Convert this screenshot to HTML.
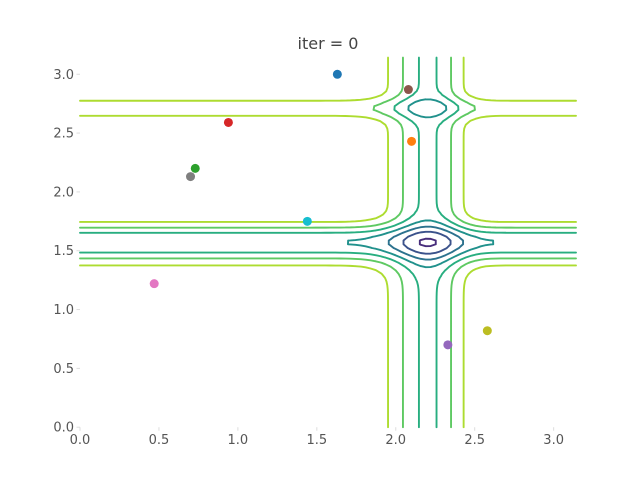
<!DOCTYPE html>
<html><head><meta charset="utf-8"><style>
body{margin:0;background:#fff}
svg{display:block;font-family:"DejaVu Sans","Liberation Sans",sans-serif}
</style></head><body>
<svg id="chart" width="640" height="480">
<text x="328" y="49" text-anchor="middle" font-size="16" fill="#444">iter = 0</text>
<g id="contours"></g>
<g id="axes"></g>
<g id="points"></g>
</svg>
<script>
const xTicks=[0,0.5,1.0,1.5,2.0,2.5,3.0];
const yTicks=[0,0.5,1.0,1.5,2.0,2.5,3.0];
const levels=[-1.75,-1.5,-1.25,-1.0,-0.75,-0.5,-0.25];
const levelColors=["#472d7b","#3b528b","#2c728e","#21918c","#28ae80","#5ec962","#addc30"];
const ptX=[1.63,2.10,0.73,0.94,2.33,2.08,0.47,0.70,2.58,1.44];
const ptY=[3.00,2.43,2.20,2.59,0.70,2.87,1.22,2.13,0.82,1.75];
const ptColors=["#1f77b4","#ff7f0e","#2ca02c","#d62728","#9467bd","#8c564b","#e377c2","#7f7f7f","#bcbd22","#17becf"];
const L=80,R=576,T=57.6,B=427.2,PI=Math.PI;
const sx=v=>L+v/PI*(R-L), sy=v=>B-v/PI*(B-T);
const NS="http://www.w3.org/2000/svg";
function mk(t,a,p){const e=document.createElementNS(NS,t);for(const k in a)e.setAttribute(k,a[k]);p.appendChild(e);return e;}
function f(x,y){return -(Math.sin(x)*Math.pow(Math.sin(x*x/PI),20)+Math.sin(y)*Math.pow(Math.sin(2*y*y/PI),20));}
const N=99,G=[];
for(let j=0;j<=N;j++){G[j]=[];for(let i=0;i<=N;i++)G[j][i]=f(i/N*PI,j/N*PI);}
const cg=document.getElementById('contours');
levels.forEach((lv,li)=>{
  let d="";
  for(let j=0;j<N;j++)for(let i=0;i<N;i++){
    const v=[G[j][i],G[j][i+1],G[j+1][i+1],G[j+1][i]];
    const c=[[i,j],[i+1,j],[i+1,j+1],[i,j+1]];
    const pts=[];
    for(let k=0;k<4;k++){const a=v[k],b=v[(k+1)%4];
      if((a<lv)!==(b<lv)){const t=(lv-a)/(b-a);const p=c[k],q=c[(k+1)%4];
        pts.push([p[0]+(q[0]-p[0])*t,p[1]+(q[1]-p[1])*t]);}}
    for(let k=0;k+1<pts.length;k+=2){
      const A=pts[k],Bp=pts[k+1];
      d+="M"+sx(A[0]/N*PI).toFixed(2)+" "+sy(A[1]/N*PI).toFixed(2)+"L"+sx(Bp[0]/N*PI).toFixed(2)+" "+sy(Bp[1]/N*PI).toFixed(2);
    }
  }
  const p=mk('path',{d:d,stroke:levelColors[li],'stroke-width':1.9,fill:'none','stroke-linecap':'round'},cg);
  
  
});
const ax=document.getElementById('axes');
xTicks.forEach(v=>{
  const l=mk('line',{x1:sx(v),x2:sx(v),y1:B,y2:B+3.5,stroke:'#ddd'},ax);
  
  
  const t=mk('text',{x:sx(v),y:B+17,'text-anchor':'middle','font-size':13,fill:'#555'},ax);
  t.textContent=v.toFixed(1);
  
  
});
yTicks.forEach(v=>{
  const l=mk('line',{x1:L-3.5,x2:L,y1:sy(v),y2:sy(v),stroke:'#ddd'},ax);
  
  
  const t=mk('text',{x:L-6,y:sy(v)+4.5,'text-anchor':'end','font-size':13,fill:'#555'},ax);
  t.textContent=v.toFixed(1);
  
  
});
const pg=document.getElementById('points');
ptX.forEach((x,i)=>{
  const c=mk('circle',{cx:sx(x),cy:sy(ptY[i]),r:4.5,fill:ptColors[i]},pg);
  
  
});
</script>
</body></html>
